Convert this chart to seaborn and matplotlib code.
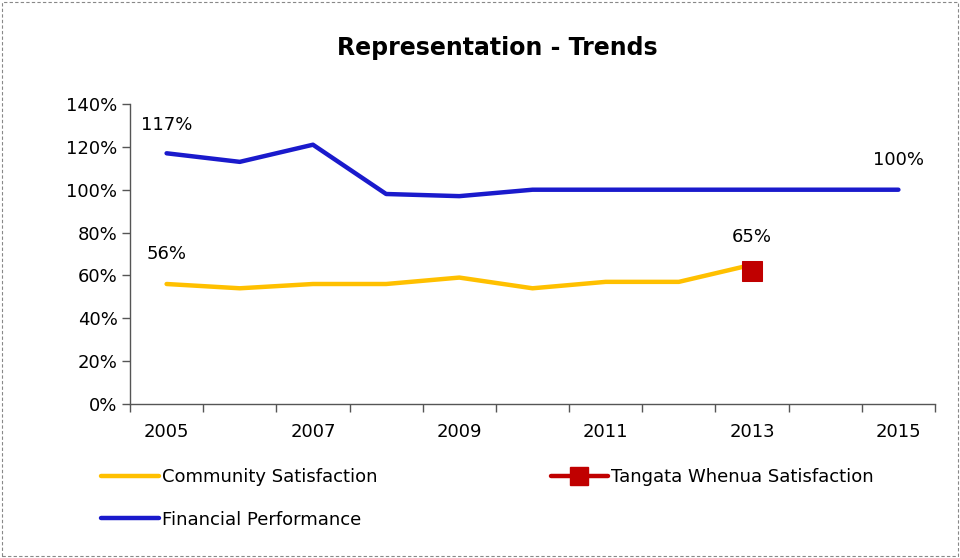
import matplotlib
matplotlib.use("Agg")
import matplotlib.pyplot as plt
import matplotlib.patches as mpatches
from matplotlib.ticker import FixedLocator, FuncFormatter
import seaborn as sns
import pandas as pd

years = [2005, 2006, 2007, 2008, 2009, 2010, 2011, 2012, 2013, 2014, 2015]
community = [56, 54, 56, 56, 59, 54, 57, 57, 65, None, None]
financial = [117, 113, 121, 98, 97, 100, 100, 100, 100, 100, 100]
tangata_years = [2013]
tangata = [62]
tick_years = [2005, 2007, 2009, 2011, 2013, 2015]
yticks = [0, 20, 40, 60, 80, 100, 120, 140]

sns.set_theme(style="white")
plt.rcParams['font.family'] = ['DejaVu Sans']
plt.rcParams['text.color'] = 'black'
plt.rcParams['xtick.color'] = 'black'
plt.rcParams['ytick.color'] = 'black'

df = pd.DataFrame({
    "year": years * 2,
    "value": community + financial,
    "series": ["Community Satisfaction"] * len(years) + ["Financial Performance"] * len(years),
}).dropna()
df_t = pd.DataFrame({"year": tangata_years, "value": tangata,
                     "series": ["Tangata Whenua Satisfaction"] * len(tangata)})

fig = plt.figure(figsize=(9.6, 5.58), dpi=100)
ax = fig.add_axes([130/960, 1-404/558, (935-130)/960, (404-104)/558])

palette = {"Community Satisfaction": "#FFC000", "Financial Performance": "#1A1ACC"}
sns.lineplot(data=df, x="year", y="value", hue="series", palette=palette,
             linewidth=3.2, ax=ax, legend=False, solid_capstyle="round")
sns.lineplot(data=df_t, x="year", y="value", color="#C00000", marker="s",
             markersize=15, linewidth=3.2, ax=ax, legend=False,
             markeredgecolor="#C00000")

ax.set_xlim(years[0] - 0.5, years[-1] + 0.5)
ax.set_ylim(0, 140)
ax.set_xlabel("")
ax.set_ylabel("")

ax.xaxis.set_major_locator(FixedLocator([y - 0.5 for y in years] + [years[-1] + 0.5]))
ax.xaxis.set_major_formatter(FuncFormatter(lambda v, p: ""))
ax.xaxis.set_minor_locator(FixedLocator(tick_years))
ax.xaxis.set_minor_formatter(FuncFormatter(lambda v, p: f"{int(round(v))}"))
ax.tick_params(axis="x", which="major", length=6, width=1, color="#555555", direction="out", bottom=True)
ax.tick_params(axis="x", which="minor", length=0, pad=14, labelsize=13, bottom=True, labelcolor="black")
ax.set_yticks(yticks)
ax.set_yticklabels([f"{v}%" for v in yticks])
ax.tick_params(axis="y", length=6, width=1, color="#555555", direction="out", left=True,
               labelsize=13, pad=3, labelcolor="black")

for s in ["top", "right"]:
    ax.spines[s].set_visible(False)
for s in ["left", "bottom"]:
    ax.spines[s].set_color("#555555")
    ax.spines[s].set_linewidth(1)

lab_kw = dict(ha="center", va="bottom", fontsize=13, color="black")
ax.annotate("117%", (2005, financial[0]), xytext=(0, 14), textcoords="offset points", **lab_kw)
ax.annotate("56%", (2005, community[0]), xytext=(0, 15), textcoords="offset points", **lab_kw)
ax.annotate("65%", (2013, tangata[0]), xytext=(0, 18), textcoords="offset points", **lab_kw)
ax.annotate("100%", (2015, financial[-1]), xytext=(0, 15), textcoords="offset points", **lab_kw)

fig.text(497/960, 1-48/558, "Representation - Trends", ha="center", va="center",
         fontsize=17, fontweight="bold", color="black")

handles = [
    plt.Line2D([], [], color="#FFC000", linewidth=3.2, solid_capstyle="round"),
    plt.Line2D([], [], color="#1A1ACC", linewidth=3.2, solid_capstyle="round"),
    plt.Line2D([], [], color="#C00000", linewidth=3.2, marker="s", markersize=13),
]
labels = ["Community Satisfaction", "Financial Performance", "Tangata Whenua Satisfaction"]
fig.legend(handles, labels, ncol=2, loc="upper left", bbox_to_anchor=(94/960, 1-461/558),
           frameon=False, fontsize=13, handlelength=3.2, handletextpad=0.15,
           columnspacing=9.6, labelspacing=1.35, borderaxespad=0, labelcolor="black")

fig.patches.append(mpatches.Rectangle((2/960, 2/558), 1-4/960, 1-4/558, transform=fig.transFigure,
                                      fill=False, edgecolor="#888888", linestyle=(0, (3, 2)), linewidth=0.8))

fig.savefig("out.png", dpi=100)
